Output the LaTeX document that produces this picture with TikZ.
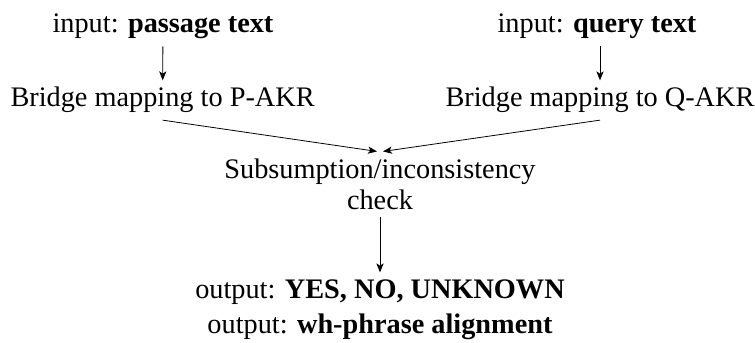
\documentclass[tikz,border=0pt]{standalone}
\usepackage{fontspec}
\setmainfont{Liberation Serif}
\usepackage{tikz}
\usetikzlibrary{arrows.meta,positioning}

\begin{document}
\begin{tikzpicture}[thin, font=\fontsize{14.2}{16}\selectfont,
	step box/.style={anchor=base, align=center},
	flow/.style={-{Stealth[length=4.5bp, width=3.6bp, inset=1.2bp]}}]
	\useasboundingbox (0bp,0bp) rectangle (377.5bp,171.5bp);

	\node (passage) [step box] at (81.5bp, 155bp) {input: \textbf{passage text}};
	\node (query) [step box] at (298.5bp, 155bp) {input: \textbf{query text}};
	\node (bridgeP) [step box] at (81.3bp, 118bp) {Bridge mapping to P-AKR};
	\node (bridgeQ) [step box] at (300bp, 118bp) {Bridge mapping to Q-AKR};
	% base of a two-line node is its last line
	\node (check) [step box] at (190bp, 66.5bp) {Subsumption/inconsistency\\check};
	\node (output) [step box, font=\fontsize{14.2}{17.5}\selectfont] at (190bp, 5bp)
		{output: \textbf{YES, NO, UNKNOWN}\\output: \textbf{wh-phrase alignment}};

	% passage / query down to their bridges
	\draw [flow] (passage) -- (bridgeP);
	\draw [flow] (query.south -| bridgeQ) -- (bridgeQ);
	\draw [flow] (bridgeP.south) -- ([xshift=-1.5bp]check.north);
	\draw [flow] (bridgeQ.south) -- ([xshift=1.5bp]check.north);
	\draw [flow] (check) -- (output);
\end{tikzpicture}
\end{document}
